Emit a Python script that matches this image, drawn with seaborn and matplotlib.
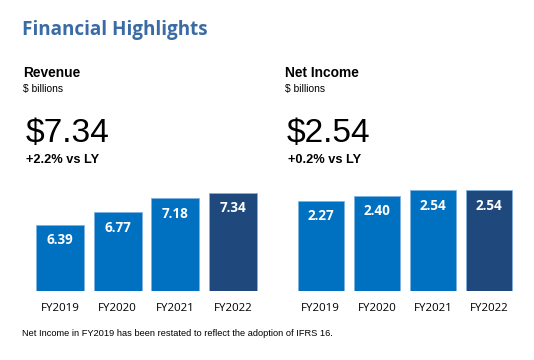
import matplotlib
matplotlib.use("Agg")
import matplotlib.pyplot as plt
import seaborn as sns
import pandas as pd

years = ["FY2019", "FY2020", "FY2021", "FY2022"]
revenue = [6.39, 6.77, 7.18, 7.34]
net_income = [2.27, 2.40, 2.54, 2.54]
bar_colors = ["#0070C0", "#0070C0", "#0070C0", "#1F497D"]

sns.set_theme(style="white")
plt.rcParams['font.family'] = ['Liberation Sans', 'DejaVu Sans']

W, H = 534, 360
fig = plt.figure(figsize=(W / 100, H / 100), dpi=100)

def px(v):
    return v * 72 / 100  # px -> pt

def ftext(x, y, s, **kw):
    fig.text(x / W, 1 - y / H, s, va="baseline", ha="left", **kw)

# Title
ftext(22, 35, "Financial Highlights", fontsize=px(18.9), fontweight="bold",
      color="#3A6BA5", family="Open Sans")

def panel(left, right_w, bottom_px, top_px, values, ymin, ymax, wfrac):
    ax = fig.add_axes([left / W, 1 - bottom_px / H, right_w / W, (bottom_px - top_px) / H])
    df = pd.DataFrame({"year": years, "value": values})
    sns.barplot(data=df, x="year", y="value", hue="year", palette=bar_colors,
                width=wfrac, ax=ax, legend=False, saturation=1,
                edgecolor="#7FB2DE", linewidth=0.6)
    ax.set_xlim(-0.5, 3.5)
    ax.set_ylim(ymin, ymax)
    for i, v in enumerate(values):
        ax.annotate(f"{v:.2f}", (i, v), xytext=(0, -px(15.5)), textcoords="offset points",
                    ha="center", va="center", color="white", fontsize=px(13.5),
                    fontweight="bold", family="Open Sans")
    ax.set_xlabel("")
    ax.set_ylabel("")
    ax.set_yticks([])
    ax.tick_params(axis="x", length=0, pad=px(12))
    for lab in ax.get_xticklabels():
        lab.set_family("Open Sans")
        lab.set_fontsize(px(11.5))
        lab.set_color("#000000")
    for s in ax.spines.values():
        s.set_visible(False)
    ax.patch.set_alpha(0)
    return ax

panel(31.2, 230.7, 290.7, 180, revenue, 4.44, 7.725, 0.832)
panel(292.8, 224, 290.7, 180, net_income, 0.0, 2.80, 0.82)

# Revenue block
ftext(23, 77.3, "Revenue", fontsize=px(13.8), fontweight="bold", color="black")
ftext(23, 92, "$ billions", fontsize=px(10.2), color="black")
ftext(25.5, 141.7, "$7.34", fontsize=px(33.5), color="black")
ftext(26.5, 162.7, "+2.2% vs LY", fontsize=px(12.8), fontweight="bold", color="black")

# Net income block
ftext(285, 77.3, "Net Income", fontsize=px(13.8), fontweight="bold", color="black")
ftext(285, 92, "$ billions", fontsize=px(10.2), color="black")
ftext(287, 141.7, "$2.54", fontsize=px(33.5), color="black")
ftext(288.5, 162.7, "+0.2% vs LY", fontsize=px(12.8), fontweight="bold", color="black")

ftext(22.5, 336, "Net Income in FY2019 has been restated to reflect the adoption of IFRS 16.",
      fontsize=px(9.3), color="black")

fig.savefig("out.png", dpi=100)
